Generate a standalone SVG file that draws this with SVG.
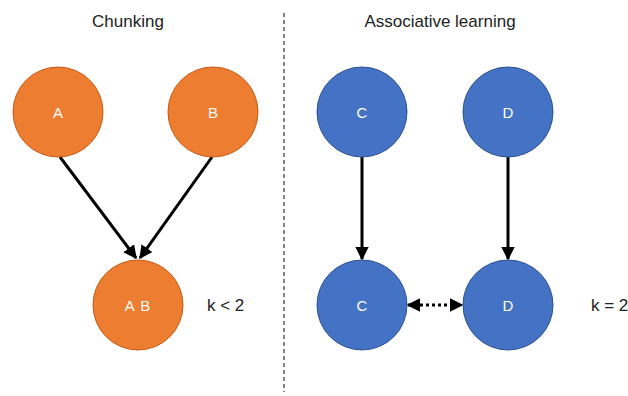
<svg xmlns="http://www.w3.org/2000/svg" width="628" height="396" viewBox="0 0 628 396">
<style>
.title{font-family:"Liberation Sans",Arial,sans-serif;font-size:17px;fill:#222;text-anchor:middle}
.k{font-family:"Liberation Sans",Arial,sans-serif;font-size:17px;fill:#222}
.lbl{font-family:"Liberation Sans",Arial,sans-serif;font-size:15px;fill:#fff;text-anchor:middle;dominant-baseline:central}
.or{fill:#ED7D31;stroke:#C55A11;stroke-width:1}
.bl{fill:#4472C4;stroke:#2F528F;stroke-width:1}
.edge{stroke:#000;stroke-width:3;fill:none}
</style>
<defs>
<marker id="ah" viewBox="0 0 10 10" refX="9" refY="5" markerWidth="4.5" markerHeight="4.5" orient="auto-start-reverse" markerUnits="strokeWidth">
<path d="M0,0 L10,5 L0,10 z" fill="#000"/>
</marker>
</defs>
<rect width="628" height="396" fill="#fff"/>
<line x1="284" y1="13" x2="284" y2="392" stroke="#333" stroke-width="1.2" stroke-dasharray="4,3"/>
<text class="title" x="128" y="27">Chunking</text>
<text class="title" x="440" y="27">Associative learning</text>
<g id="connectors">
<line class="edge" x1="60" y1="157" x2="136" y2="258" marker-end="url(#ah)"/>
<line class="edge" x1="212" y1="157" x2="140" y2="258" marker-end="url(#ah)"/>
<line class="edge" x1="362" y1="157" x2="362" y2="259" marker-end="url(#ah)"/>
<line class="edge" x1="508" y1="157" x2="508" y2="259" marker-end="url(#ah)"/>
<line class="edge" x1="408" y1="305" x2="462" y2="305" stroke-dasharray="3,3" marker-start="url(#ah)" marker-end="url(#ah)"/>
</g>
<g id="A"><circle class="or" cx="58" cy="112" r="45"/><text class="lbl" x="58" y="112">A</text></g>
<g id="B"><circle class="or" cx="213" cy="112" r="45"/><text class="lbl" x="213" y="112">B</text></g>
<g id="AB"><circle class="or" cx="138" cy="305" r="45"/><text class="lbl" x="138" y="305" letter-spacing="1">A B</text></g>
<g id="C1"><circle class="bl" cx="362" cy="112" r="45"/><text class="lbl" x="362" y="112">C</text></g>
<g id="D1"><circle class="bl" cx="508" cy="112" r="45"/><text class="lbl" x="508" y="112">D</text></g>
<g id="C2"><circle class="bl" cx="362" cy="305" r="45"/><text class="lbl" x="362" y="305">C</text></g>
<g id="D2"><circle class="bl" cx="508" cy="305" r="45"/><text class="lbl" x="508" y="305">D</text></g>
<text class="k" x="207" y="311">k &lt; 2</text>
<text class="k" x="591" y="311">k = 2</text>
</svg>
